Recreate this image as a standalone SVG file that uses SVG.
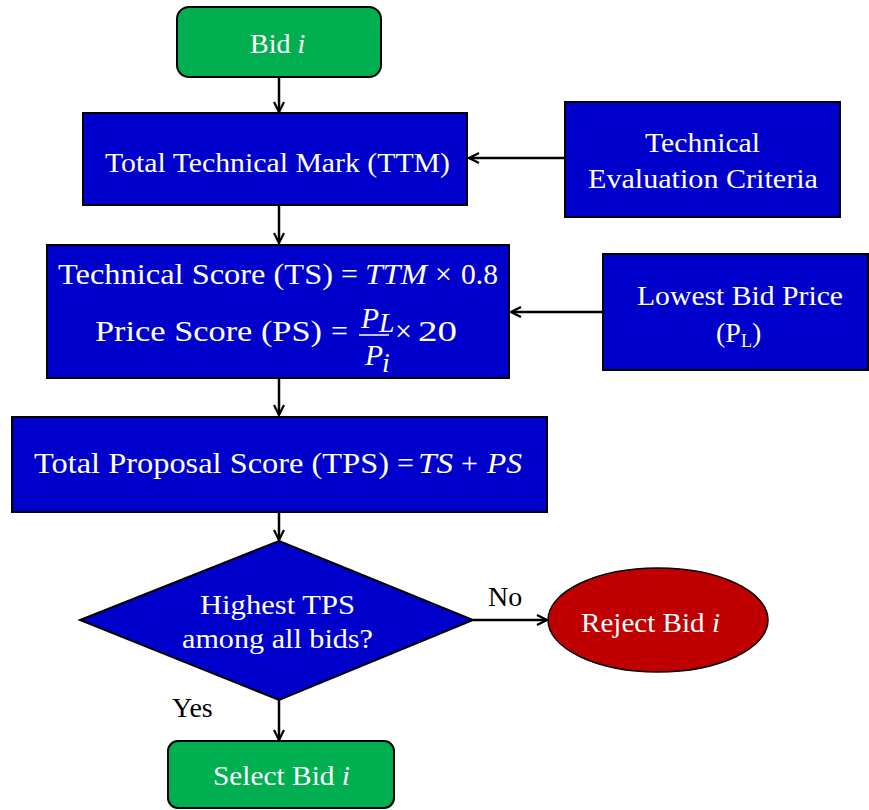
<svg xmlns="http://www.w3.org/2000/svg" width="869" height="810" viewBox="0 0 869 810">
<style>
.blue{fill:#0000cc;stroke:#000;stroke-width:2}
.green{fill:#00b050;stroke:#000;stroke-width:2}
.red{fill:#c00000;stroke:#000;stroke-width:1.5}
.t{font-family:"Liberation Serif","Times New Roman",serif;fill:#fff;font-size:28px}
.k{font-family:"Liberation Serif","Times New Roman",serif;fill:#000;font-size:28px}
.m{font-size:30px}
.i{font-style:italic}
.c{stroke:#000;stroke-width:2.5;fill:none;marker-end:url(#ah)}
</style>
<defs>
<marker id="ah" viewBox="0 0 12 12" refX="11" refY="6" markerWidth="12" markerHeight="12" markerUnits="userSpaceOnUse" orient="auto">
<path d="M1,1 L11,6 L1,11" fill="none" stroke="#000" stroke-width="2.2"/>
</marker>
</defs>
<rect width="869" height="810" fill="#fff"/>
<g id="connectors">
<line class="c" x1="279" y1="77" x2="279" y2="112"/>
<line class="c" x1="565" y1="158" x2="469" y2="158"/>
<line class="c" x1="279" y1="205" x2="279" y2="243"/>
<line class="c" x1="603" y1="312" x2="511" y2="312"/>
<line class="c" x1="279" y1="378" x2="279" y2="415"/>
<line class="c" x1="279" y1="512" x2="279" y2="540"/>
<line class="c" x1="473" y1="620" x2="547" y2="620"/>
<line class="c" x1="279" y1="700" x2="279" y2="740"/>
</g>
<g id="bid">
<rect class="green" x="177" y="7" width="204" height="70" rx="12"/>
<text class="t" x="250" y="53">Bid <tspan class="i">i</tspan></text>
</g>
<g id="ttm">
<rect class="blue" x="83" y="113" width="384" height="92"/>
<text class="t" x="105" y="172" textLength="345" lengthAdjust="spacingAndGlyphs">Total Technical Mark (TTM)</text>
</g>
<g id="criteria">
<rect class="blue" x="565" y="102" width="275" height="115"/>
<text class="t" x="645" y="152" textLength="115" lengthAdjust="spacingAndGlyphs">Technical</text>
<text class="t" x="588" y="188" textLength="230" lengthAdjust="spacingAndGlyphs">Evaluation Criteria</text>
</g>
<g id="scores">
<rect class="blue" x="47" y="245" width="462" height="133"/>
<text class="t m" x="58" y="284" textLength="275" lengthAdjust="spacingAndGlyphs">Technical Score (TS)</text>
<text class="t m" x="341" y="284">=</text>
<text class="t m i" x="365" y="284" textLength="62" lengthAdjust="spacingAndGlyphs">TTM</text>
<text class="t m" x="435" y="284">×</text>
<text class="t m" x="461" y="284" textLength="37" lengthAdjust="spacingAndGlyphs">0.8</text>
<text class="t m" x="95" y="341" textLength="227" lengthAdjust="spacingAndGlyphs">Price Score (PS)</text>
<text class="t m" x="331" y="341">=</text>
<text class="t m i" x="361" y="328" textLength="18" lengthAdjust="spacingAndGlyphs">P</text>
<text class="t i" x="379" y="332" font-size="15">L</text>
<line x1="359" y1="335" x2="389" y2="335" stroke="#fff" stroke-width="1.5"/>
<text class="t m i" x="365" y="365" textLength="18" lengthAdjust="spacingAndGlyphs">P</text>
<text class="t i" x="382" y="372" font-size="16">i</text>
<text class="t m" x="395" y="341">×</text>
<text class="t m" x="418" y="341" textLength="39" lengthAdjust="spacingAndGlyphs">20</text>
</g>
<g id="lowest">
<rect class="blue" x="603" y="254" width="265" height="116"/>
<text class="t" x="637" y="305" textLength="206" lengthAdjust="spacingAndGlyphs">Lowest Bid Price</text>
<text class="t" x="716" y="342">(P<tspan font-size="18" dy="5">L</tspan><tspan dy="-5">)</tspan></text>
</g>
<g id="tps">
<rect class="blue" x="12" y="417" width="535" height="95"/>
<text class="t m" x="34" y="473" textLength="355" lengthAdjust="spacingAndGlyphs">Total Proposal Score (TPS)</text>
<text class="t m" x="397" y="473">=</text>
<text class="t m i" x="418" y="473" textLength="35" lengthAdjust="spacingAndGlyphs">TS</text>
<text class="t m" x="461" y="473">+</text>
<text class="t m i" x="487" y="473" textLength="35" lengthAdjust="spacingAndGlyphs">PS</text>
</g>
<g id="decision">
<polygon class="blue" points="279,541 473,620 279,700 80,620"/>
<text class="t" x="200" y="614" textLength="155" lengthAdjust="spacingAndGlyphs">Highest TPS</text>
<text class="t" x="182" y="648" textLength="191" lengthAdjust="spacingAndGlyphs">among all bids?</text>
</g>
<g id="reject">
<ellipse class="red" cx="658" cy="620" rx="110" ry="52"/>
<text class="t" x="581" y="632" textLength="139" lengthAdjust="spacingAndGlyphs">Reject Bid <tspan class="i">i</tspan></text>
</g>
<g id="select">
<rect class="green" x="168" y="741" width="226" height="67" rx="10"/>
<text class="t" x="213" y="785" textLength="137" lengthAdjust="spacingAndGlyphs">Select Bid <tspan class="i">i</tspan></text>
</g>
<g id="labels">
<text class="k" x="488" y="606">No</text>
<text class="k" x="172" y="717">Yes</text>
</g>
</svg>
